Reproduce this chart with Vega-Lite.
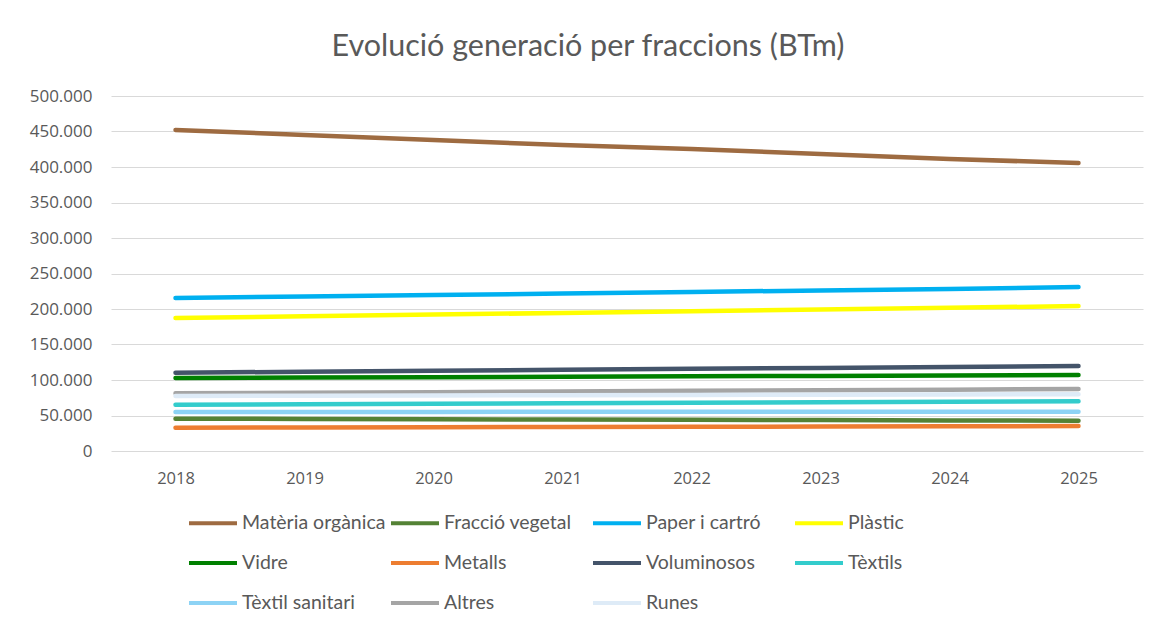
{
  "$schema": "https://vega.github.io/schema/vega-lite/v6.json",
  "width": 1032,
  "height": 355,
  "autosize": "none",
  "padding": {"left": 111, "top": 96, "right": 18, "bottom": 177},
  "background": "white",
  "title": {
    "text": "Evolució generació per fraccions (BTm)",
    "font": "Lato",
    "fontSize": 30.5,
    "fontWeight": "normal",
    "color": "#595959",
    "anchor": "middle",
    "frame": "group",
    "dx": -39,
    "offset": 25
  },
  "data": {
    "values": [
      {"fraccio": "Matèria orgànica", "any": "2018", "valor": 452100},
      {"fraccio": "Matèria orgànica", "any": "2019", "valor": 445100},
      {"fraccio": "Matèria orgànica", "any": "2020", "valor": 438000},
      {"fraccio": "Matèria orgànica", "any": "2021", "valor": 431000},
      {"fraccio": "Matèria orgànica", "any": "2022", "valor": 425300},
      {"fraccio": "Matèria orgànica", "any": "2023", "valor": 418300},
      {"fraccio": "Matèria orgànica", "any": "2024", "valor": 411300},
      {"fraccio": "Matèria orgànica", "any": "2025", "valor": 405600},
      {"fraccio": "Fracció vegetal", "any": "2018", "valor": 45500},
      {"fraccio": "Fracció vegetal", "any": "2019", "valor": 45100},
      {"fraccio": "Fracció vegetal", "any": "2020", "valor": 44700},
      {"fraccio": "Fracció vegetal", "any": "2021", "valor": 44300},
      {"fraccio": "Fracció vegetal", "any": "2022", "valor": 43900},
      {"fraccio": "Fracció vegetal", "any": "2023", "valor": 43500},
      {"fraccio": "Fracció vegetal", "any": "2024", "valor": 43100},
      {"fraccio": "Fracció vegetal", "any": "2025", "valor": 42700},
      {"fraccio": "Paper i cartró", "any": "2018", "valor": 215500},
      {"fraccio": "Paper i cartró", "any": "2019", "valor": 217600},
      {"fraccio": "Paper i cartró", "any": "2020", "valor": 219700},
      {"fraccio": "Paper i cartró", "any": "2021", "valor": 221800},
      {"fraccio": "Paper i cartró", "any": "2022", "valor": 224000},
      {"fraccio": "Paper i cartró", "any": "2023", "valor": 226100},
      {"fraccio": "Paper i cartró", "any": "2024", "valor": 228200},
      {"fraccio": "Paper i cartró", "any": "2025", "valor": 231000},
      {"fraccio": "Plàstic", "any": "2018", "valor": 187300},
      {"fraccio": "Plàstic", "any": "2019", "valor": 189700},
      {"fraccio": "Plàstic", "any": "2020", "valor": 192100},
      {"fraccio": "Plàstic", "any": "2021", "valor": 194500},
      {"fraccio": "Plàstic", "any": "2022", "valor": 196900},
      {"fraccio": "Plàstic", "any": "2023", "valor": 199300},
      {"fraccio": "Plàstic", "any": "2024", "valor": 201700},
      {"fraccio": "Plàstic", "any": "2025", "valor": 204200},
      {"fraccio": "Vidre", "any": "2018", "valor": 102800},
      {"fraccio": "Vidre", "any": "2019", "valor": 103400},
      {"fraccio": "Vidre", "any": "2020", "valor": 104000},
      {"fraccio": "Vidre", "any": "2021", "valor": 104600},
      {"fraccio": "Vidre", "any": "2022", "valor": 105200},
      {"fraccio": "Vidre", "any": "2023", "valor": 105800},
      {"fraccio": "Vidre", "any": "2024", "valor": 106400},
      {"fraccio": "Vidre", "any": "2025", "valor": 107000},
      {"fraccio": "Metalls", "any": "2018", "valor": 32800},
      {"fraccio": "Metalls", "any": "2019", "valor": 33100},
      {"fraccio": "Metalls", "any": "2020", "valor": 33500},
      {"fraccio": "Metalls", "any": "2021", "valor": 33800},
      {"fraccio": "Metalls", "any": "2022", "valor": 34100},
      {"fraccio": "Metalls", "any": "2023", "valor": 34500},
      {"fraccio": "Metalls", "any": "2024", "valor": 34800},
      {"fraccio": "Metalls", "any": "2025", "valor": 35200},
      {"fraccio": "Voluminosos", "any": "2018", "valor": 110300},
      {"fraccio": "Voluminosos", "any": "2019", "valor": 111600},
      {"fraccio": "Voluminosos", "any": "2020", "valor": 113000},
      {"fraccio": "Voluminosos", "any": "2021", "valor": 114300},
      {"fraccio": "Voluminosos", "any": "2022", "valor": 115700},
      {"fraccio": "Voluminosos", "any": "2023", "valor": 117000},
      {"fraccio": "Voluminosos", "any": "2024", "valor": 118400},
      {"fraccio": "Voluminosos", "any": "2025", "valor": 119700},
      {"fraccio": "Tèxtils", "any": "2018", "valor": 65200},
      {"fraccio": "Tèxtils", "any": "2019", "valor": 65900},
      {"fraccio": "Tèxtils", "any": "2020", "valor": 66600},
      {"fraccio": "Tèxtils", "any": "2021", "valor": 67300},
      {"fraccio": "Tèxtils", "any": "2022", "valor": 67900},
      {"fraccio": "Tèxtils", "any": "2023", "valor": 68600},
      {"fraccio": "Tèxtils", "any": "2024", "valor": 69300},
      {"fraccio": "Tèxtils", "any": "2025", "valor": 70000},
      {"fraccio": "Tèxtil sanitari", "any": "2018", "valor": 55000},
      {"fraccio": "Tèxtil sanitari", "any": "2019", "valor": 55100},
      {"fraccio": "Tèxtil sanitari", "any": "2020", "valor": 55100},
      {"fraccio": "Tèxtil sanitari", "any": "2021", "valor": 55200},
      {"fraccio": "Tèxtil sanitari", "any": "2022", "valor": 55200},
      {"fraccio": "Tèxtil sanitari", "any": "2023", "valor": 55300},
      {"fraccio": "Tèxtil sanitari", "any": "2024", "valor": 55300},
      {"fraccio": "Tèxtil sanitari", "any": "2025", "valor": 55400},
      {"fraccio": "Altres", "any": "2018", "valor": 81200},
      {"fraccio": "Altres", "any": "2019", "valor": 82100},
      {"fraccio": "Altres", "any": "2020", "valor": 82900},
      {"fraccio": "Altres", "any": "2021", "valor": 83800},
      {"fraccio": "Altres", "any": "2022", "valor": 84700},
      {"fraccio": "Altres", "any": "2023", "valor": 85600},
      {"fraccio": "Altres", "any": "2024", "valor": 86400},
      {"fraccio": "Altres", "any": "2025", "valor": 87300},
      {"fraccio": "Runes", "any": "2018", "valor": 77500},
      {"fraccio": "Runes", "any": "2019", "valor": 77900},
      {"fraccio": "Runes", "any": "2020", "valor": 78200},
      {"fraccio": "Runes", "any": "2021", "valor": 78600},
      {"fraccio": "Runes", "any": "2022", "valor": 78900},
      {"fraccio": "Runes", "any": "2023", "valor": 79300},
      {"fraccio": "Runes", "any": "2024", "valor": 79600},
      {"fraccio": "Runes", "any": "2025", "valor": 80000}
    ]
  },
  "mark": {"type": "line", "strokeWidth": 4.5, "strokeCap": "round"},
  "encoding": {
    "x": {
      "field": "any",
      "type": "ordinal",
      "scale": {"type": "point", "padding": 0.5},
      "axis": {
        "title": null,
        "labelAngle": 0,
        "domain": false,
        "ticks": false,
        "grid": false,
        "labelFont": "Open Sans",
        "labelFontSize": 16.5,
        "labelColor": "#595959",
        "labelPadding": 19
      }
    },
    "y": {
      "field": "valor",
      "type": "quantitative",
      "scale": {"domain": [0, 500000], "nice": false},
      "axis": {
        "title": null,
        "values": [0, 50000, 100000, 150000, 200000, 250000, 300000, 350000, 400000, 450000, 500000],
        "labelExpr": "replace(format(datum.value, ','), /,/g, '.')",
        "domain": false,
        "ticks": false,
        "grid": true,
        "gridColor": "#D9D9D9",
        "gridWidth": 1,
        "labelFont": "Open Sans",
        "labelFontSize": 17,
        "labelColor": "#595959",
        "labelPadding": 19
      }
    },
    "color": {
      "field": "fraccio",
      "type": "nominal",
      "scale": {
        "domain": ["Matèria orgànica", "Fracció vegetal", "Paper i cartró", "Plàstic", "Vidre", "Metalls", "Voluminosos", "Tèxtils", "Tèxtil sanitari", "Altres", "Runes"],
        "range": ["#9E6B41", "#548235", "#00B0F0", "#FFFF00", "#008000", "#ED7D31", "#44546A", "#33CCCC", "#8DD3F5", "#A5A5A5", "#DEEBF7"]
      },
      "legend": {
        "title": null,
        "orient": "none",
        "legendX": 76,
        "legendY": 417,
        "direction": "horizontal",
        "columns": 4,
        "gridAlign": "all",
        "symbolType": "M-1,0H5",
        "symbolSize": 256,
        "symbolStrokeWidth": 4,
        "labelOffset": 35,
        "labelFont": "Lato",
        "labelFontSize": 19.5,
        "labelColor": "#595959",
        "rowPadding": 20,
        "columnPadding": -3,
        "labelLimit": 300
      }
    }
  },
  "config": {"view": {"stroke": null}}
}
